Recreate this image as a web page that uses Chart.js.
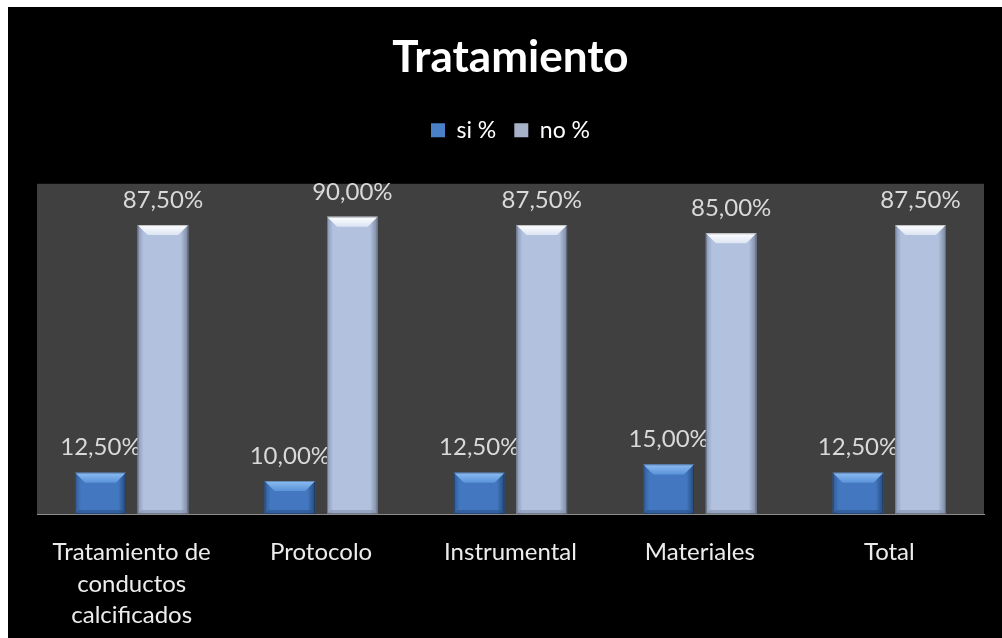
<!DOCTYPE html>
<html>
<head>
<meta charset="utf-8">
<script src="https://cdn.jsdelivr.net/npm/chart.js@4/dist/chart.umd.min.js"></script>
<style>
  html, body { margin: 0; padding: 0; background: #ffffff; }
  #wrap { width: 1002px; height: 638px; }
</style>
</head>
<body>
<div id="wrap"><canvas id="c" width="1002" height="638"></canvas></div>
<script>
// Categories and series
const categories = [
  ['Tratamiento de', 'conductos', 'calcificados'],
  'Protocolo',
  'Instrumental',
  'Materiales',
  'Total'
];
const siValues = [12.5, 10, 12.5, 15, 12.5];
const noValues = [87.5, 90, 87.5, 85, 87.5];
const seriesNames = ['si %', 'no %'];

const FONT = 'Lato, "Open Sans", sans-serif';

function fmt(v) {
  return v.toFixed(2).replace('.', ',') + '%';
}

// Black frame and grey plot area
const backdrop = {
  id: 'backdrop',
  beforeDraw(chart) {
    const ctx = chart.ctx;
    const a = chart.chartArea;
    ctx.save();
    ctx.fillStyle = '#ffffff';
    ctx.fillRect(0, 0, chart.width, chart.height);
    ctx.fillStyle = '#000000';
    ctx.fillRect(8, 7, chart.width - 8, chart.height - 7);
    ctx.fillStyle = '#404040';
    ctx.fillRect(a.left, a.top, a.right - a.left, a.bottom - a.top);
    ctx.restore();
  }
};

// Bevelled bar faces and value labels
const palettes = [
  { edgeL: '#2f5c98', mid: '#4378c0', edgeR: '#24497c', top1: '#8cbcf2', top2: '#5a93d8', bottom: '#2a5188' },
  { edgeL: '#8a98b6', mid: '#b2c1de', edgeR: '#7a879f', top1: '#ffffff', top2: '#dbe4f3', bottom: '#8692ab' }
];

const bevels = {
  id: 'bevels',
  afterDatasetsDraw(chart) {
    const ctx = chart.ctx;
    chart.data.datasets.forEach((ds, di) => {
      const meta = chart.getDatasetMeta(di);
      const p = palettes[di];
      meta.data.forEach((bar, i) => {
        const w = bar.width;
        const l = bar.x - w / 2, r = bar.x + w / 2;
        const t = bar.y, b = bar.base;
        const h = b - t;
        const bv = Math.min(10, h / 3);
        ctx.save();
        // body
        const g = ctx.createLinearGradient(l, 0, r, 0);
        g.addColorStop(0, p.edgeL);
        g.addColorStop(0.12, p.mid);
        g.addColorStop(0.85, p.mid);
        g.addColorStop(1, p.edgeR);
        ctx.fillStyle = g;
        ctx.fillRect(l, t, w, h);
        // top face
        const gt = ctx.createLinearGradient(0, t, 0, t + bv);
        gt.addColorStop(0, p.top1);
        gt.addColorStop(1, p.top2);
        ctx.fillStyle = gt;
        ctx.beginPath();
        ctx.moveTo(l, t);
        ctx.lineTo(r, t);
        ctx.lineTo(r - bv, t + bv);
        ctx.lineTo(l + bv, t + bv);
        ctx.closePath();
        ctx.fill();
        // bottom face
        const bb = Math.min(4, h / 6);
        ctx.fillStyle = p.bottom;
        ctx.globalAlpha = 0.6;
        ctx.beginPath();
        ctx.moveTo(l, b);
        ctx.lineTo(r, b);
        ctx.lineTo(r - bb, b - bb);
        ctx.lineTo(l + bb, b - bb);
        ctx.closePath();
        ctx.fill();
        ctx.globalAlpha = 1;
        // thin outline
        ctx.strokeStyle = 'rgba(0,0,0,0.25)';
        ctx.lineWidth = 1;
        ctx.strokeRect(l + 0.5, t + 0.5, w - 1, h - 1);
        ctx.restore();

        // value label
        ctx.save();
        ctx.font = '24px ' + FONT;
        ctx.fillStyle = '#d9d9d9';
        ctx.textAlign = 'center';
        ctx.textBaseline = 'middle';
        ctx.fillText(fmt(ds.data[i]), bar.x, t - 25);
        ctx.restore();
      });
    });
  }
};

new Chart(document.getElementById('c'), {
  type: 'bar',
  data: {
    labels: categories,
    datasets: [
      { label: seriesNames[0], data: siValues, backgroundColor: '#4378c0', borderWidth: 0 },
      { label: seriesNames[1], data: noValues, backgroundColor: '#b2c1de', borderWidth: 0 }
    ]
  },
  options: {
    responsive: false,
    animation: false,
    devicePixelRatio: 1,
    datasets: { bar: { categoryPercentage: 0.66, barPercentage: 0.81 } },
    layout: { padding: { top: 7, left: 37, right: 18, bottom: 0 } },
    plugins: {
      tooltip: { enabled: false },
      title: {
        display: true,
        text: 'Tratamiento',
        color: '#ffffff',
        font: { family: FONT, size: 44, weight: 'bold' },
        padding: { top: 24, bottom: 17 }
      },
      // empty spacer between the legend and the plot area
      subtitle: {
        display: true,
        text: '',
        weight: 500,
        font: { size: 1, lineHeight: 1 },
        padding: { top: 0, bottom: 31 }
      },
      legend: {
        display: true,
        position: 'top',
        labels: {
          color: '#ffffff',
          font: { family: FONT, size: 23 },
          boxWidth: 14,
          boxHeight: 14,
          padding: 18,
          generateLabels(chart) {
            const fills = ['#4a80c8', '#a7b2c8'];
            return chart.data.datasets.map((ds, i) => ({
              text: ds.label,
              fillStyle: fills[i],
              strokeStyle: fills[i],
              lineWidth: 0,
              fontColor: '#ffffff',
              datasetIndex: i
            }));
          }
        }
      }
    },
    scales: {
      x: {
        grid: { display: false },
        border: { display: true, color: '#8c8c8c', width: 1 },
        ticks: {
          color: '#ececec',
          font: { family: FONT, size: 24, lineHeight: 1.31 },
          padding: 15,
          maxRotation: 0,
          autoSkip: false
        },
        afterFit(scale) { scale.height = 124; }
      },
      y: {
        display: false,
        min: 0,
        max: 100
      }
    }
  },
  plugins: [backdrop, bevels]
});
</script>
</body>
</html>
